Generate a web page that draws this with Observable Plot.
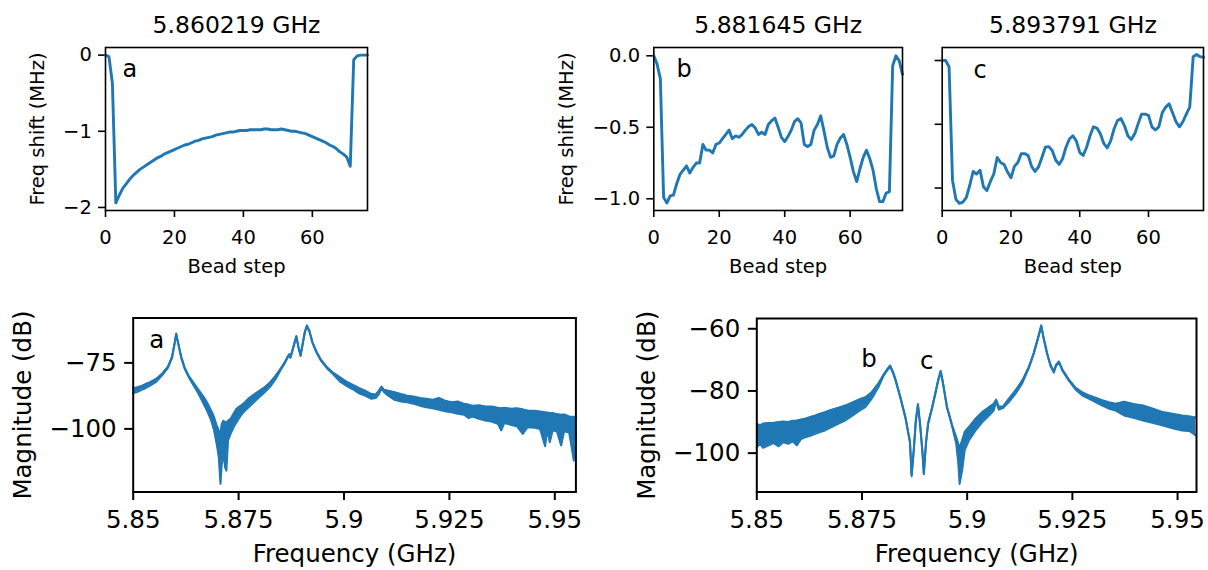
<!DOCTYPE html>
<html><head><meta charset="utf-8">
<script src="https://cdn.jsdelivr.net/npm/d3@7"></script>
<script src="https://cdn.jsdelivr.net/npm/@observablehq/plot@0.6"></script>
<style>
html,body{margin:0;padding:0;background:#fff;}
#fig{position:relative;width:1208px;height:570px;overflow:hidden;background:#fff;}
.panel{position:absolute;}
.panel svg{display:block;overflow:visible;}
.top g[aria-label$="-axis tick"]{stroke-width:1.6px;}
.bottom g[aria-label$="-axis tick"]{stroke-width:2px;}
</style></head><body><div id="fig"></div>
<script>
// ---------- data ----------
const titles = ["5.860219 GHz", "5.881645 GHz", "5.893791 GHz"];
const panelLetters = ["a", "b", "c"];
const beadStep = [0,1,2,3,4,5,6,7,8,9,10,11,12,13,14,15,16,17,18,19,20,21,22,23,24,25,26,27,28,29,30,31,32,33,34,35,36,37,38,39,40,41,42,43,44,45,46,47,48,49,50,51,52,53,54,55,56,57,58,59,60,61,62,63,64,65,66,67,68,69,70,71,72,73,74,75,76];
const shiftA = [0,-0.02,-0.37,-1.94,-1.84,-1.75,-1.69,-1.63,-1.58,-1.54,-1.50,-1.47,-1.44,-1.41,-1.38,-1.35,-1.33,-1.30,-1.28,-1.26,-1.24,-1.22,-1.20,-1.18,-1.17,-1.15,-1.13,-1.12,-1.10,-1.09,-1.08,-1.07,-1.05,-1.04,-1.03,-1.02,-1.01,-1.01,-1.00,-0.99,-0.99,-0.99,-0.98,-0.98,-0.98,-0.98,-0.97,-0.97,-0.98,-0.98,-0.98,-0.97,-0.98,-0.99,-1.00,-1.00,-1.01,-1.02,-1.03,-1.05,-1.07,-1.09,-1.11,-1.13,-1.15,-1.18,-1.20,-1.23,-1.27,-1.30,-1.34,-1.46,-0.06,-0.01,0,0,0];
const shiftB = [0,-0.058,-0.16,-0.99,-1.03,-0.98,-0.975,-0.895,-0.83,-0.80,-0.77,-0.82,-0.78,-0.75,-0.75,-0.62,-0.66,-0.66,-0.68,-0.62,-0.61,-0.58,-0.55,-0.52,-0.58,-0.56,-0.57,-0.55,-0.52,-0.495,-0.48,-0.505,-0.55,-0.535,-0.55,-0.48,-0.455,-0.435,-0.50,-0.57,-0.60,-0.565,-0.52,-0.46,-0.44,-0.47,-0.62,-0.635,-0.62,-0.52,-0.48,-0.42,-0.525,-0.64,-0.71,-0.70,-0.62,-0.575,-0.55,-0.62,-0.71,-0.81,-0.88,-0.79,-0.71,-0.66,-0.72,-0.80,-0.93,-1.02,-1.02,-0.96,-0.95,-0.07,0.0,-0.035,-0.13];
const shiftC = [0,0,-0.05,-0.94,-1.09,-1.12,-1.11,-1.075,-0.98,-0.87,-0.89,-0.86,-0.99,-1.02,-0.95,-0.89,-0.76,-0.80,-0.815,-0.875,-0.92,-0.83,-0.80,-0.73,-0.73,-0.745,-0.83,-0.87,-0.835,-0.76,-0.68,-0.675,-0.705,-0.78,-0.815,-0.77,-0.68,-0.615,-0.59,-0.63,-0.72,-0.745,-0.68,-0.59,-0.52,-0.53,-0.575,-0.65,-0.685,-0.63,-0.535,-0.47,-0.455,-0.51,-0.59,-0.62,-0.575,-0.495,-0.42,-0.42,-0.43,-0.52,-0.545,-0.52,-0.41,-0.365,-0.34,-0.41,-0.48,-0.52,-0.48,-0.42,-0.365,0.03,0.047,0.03,0.026];
const beadTicks = [0, 20, 40, 60];
const beadTickLabels = ["0", "20", "40", "60"];
const yTicksA = [0, -1, -2];
const yTickLabelsA = ["0", "−1", "−2"];
const yTicksB = [0, -0.5, -1];
const yTickLabelsB = ["0.0", "−0.5", "−1.0"];
const yTicksC = [0, -0.5, -1];

// spectrum, left (peak a): frequency (GHz), upper / lower edge of the noisy trace (dB)
const freqL = [5.8500,5.8510,5.8520,5.8530,5.8540,5.8555,5.8570,5.8582,5.8592,5.8598,5.8602,5.8607,5.8614,5.8622,5.8632,5.8645,5.8655,5.8665,5.8675,5.8685,5.8692,5.8698,5.8703,5.8707,5.8710,5.8714,5.8718,5.8721,5.8725,5.8731,5.8738,5.8745,5.8755,5.8765,5.8775,5.8788,5.8800,5.8812,5.8825,5.8838,5.8850,5.8860,5.8866,5.8870,5.8873,5.8878,5.8883,5.8887,5.8892,5.8897,5.8902,5.8907,5.8912,5.8918,5.8925,5.8935,5.8945,5.8960,5.8975,5.8990,5.9005,5.9020,5.9035,5.9050,5.9065,5.9075,5.9083,5.9089,5.9095,5.9105,5.9120,5.9135,5.9150,5.9165,5.9180,5.9195,5.9210,5.9225,5.9240,5.9255,5.9270,5.9285,5.9295,5.9305,5.9320,5.9335,5.9350,5.9365,5.9373,5.9380,5.9397,5.9410,5.9424,5.9435,5.9452,5.9465,5.9477,5.9482,5.9488,5.9495,5.9505,5.9515,5.9522,5.9534,5.9545,5.9550];
const hiL = [-84.6,-84.2,-83.7,-83.0,-82.3,-81.0,-78.8,-76.5,-72.7,-67.6,-63.9,-67.6,-72.7,-76.7,-80.0,-82.9,-85.2,-87.4,-89.9,-93.1,-95.6,-98.7,-100.6,-102.0,-98.1,-96.9,-97.5,-97.5,-96.9,-96.2,-94.3,-92.4,-91.2,-89.9,-88.3,-86.8,-85.5,-84.2,-82.3,-79.8,-77.1,-74.6,-72.7,-71.7,-72.7,-69.9,-67.0,-64.8,-68.9,-72.0,-67.6,-63.2,-60.8,-62.8,-67.0,-70.8,-73.7,-76.7,-78.8,-80.4,-82.0,-83.2,-84.5,-85.5,-86.8,-87.0,-85.5,-84.0,-85.2,-85.5,-86.1,-86.8,-87.4,-87.7,-88.3,-88.6,-89.0,-88.3,-89.3,-89.9,-89.6,-90.5,-90.8,-91.2,-91.0,-91.5,-91.5,-92.0,-92.2,-92.0,-92.4,-92.2,-92.6,-93.0,-93.1,-93.4,-93.7,-93.8,-94.1,-94.0,-94.4,-94.6,-94.5,-95.3,-95.4,-95.6];
const loL = [-86.4,-86.0,-85.2,-84.5,-83.6,-82.1,-79.4,-77.0,-73.2,-68.0,-64.2,-68.0,-73.2,-77.2,-80.5,-84.0,-86.7,-89.9,-93.1,-96.8,-100.6,-105.7,-110.7,-120.8,-113.3,-109.5,-114.6,-115.8,-104.4,-101.9,-99.4,-97.5,-95.0,-93.1,-91.6,-89.6,-87.8,-86.1,-84.0,-81.1,-77.6,-75.0,-73.1,-72.1,-73.1,-70.3,-67.4,-65.2,-69.3,-72.4,-68.0,-63.6,-61.1,-63.2,-67.4,-71.2,-74.1,-77.1,-79.4,-82.0,-83.6,-84.9,-86.5,-87.4,-88.6,-88.3,-86.8,-84.5,-86.1,-87.4,-89.0,-89.6,-89.9,-90.5,-91.2,-91.8,-92.2,-92.8,-93.3,-93.7,-94.3,-94.6,-95.9,-95.3,-96.2,-96.8,-97.2,-98.1,-100.6,-97.8,-98.5,-99.0,-101.9,-99.4,-99.6,-100.0,-106.6,-100.2,-105.1,-100.5,-101.0,-106.3,-101.0,-101.3,-112.0,-101.9];

// spectrum, right (peaks b and c)
const freqR = [5.8500,5.8508,5.8515,5.8528,5.8540,5.8552,5.8563,5.8575,5.8585,5.8595,5.8605,5.8615,5.8627,5.8639,5.8650,5.8662,5.8674,5.8686,5.8698,5.8710,5.8722,5.8734,5.8746,5.8758,5.8773,5.8789,5.8801,5.8810,5.8817,5.8823,5.8829,5.8841,5.8853,5.8864,5.8868,5.8873,5.8878,5.8883,5.8888,5.8894,5.8897,5.8902,5.8907,5.8917,5.8925,5.8931,5.8937,5.8942,5.8952,5.8964,5.8974,5.8979,5.8982,5.8988,5.8994,5.9004,5.9020,5.9036,5.9052,5.9063,5.9069,5.9075,5.9085,5.9099,5.9115,5.9131,5.9147,5.9158,5.9169,5.9176,5.9182,5.9190,5.9198,5.9206,5.9211,5.9218,5.9226,5.9242,5.9258,5.9273,5.9289,5.9305,5.9321,5.9337,5.9353,5.9373,5.9395,5.9418,5.9440,5.9465,5.9488,5.9511,5.9530,5.9543];
const hiR = [-90.6,-91.0,-90.5,-90.3,-90.2,-90.0,-89.8,-90.0,-89.6,-89.5,-89.2,-88.9,-88.4,-87.9,-87.3,-86.8,-86.2,-85.7,-85.2,-84.7,-84.0,-83.3,-82.6,-82.0,-80.4,-77.6,-74.8,-73.0,-71.8,-73.6,-75.9,-81.8,-88.2,-96.2,-107.0,-98.9,-89.3,-84.2,-90.4,-100.0,-106.4,-96.7,-90.4,-85.0,-80.2,-76.4,-73.5,-76.9,-85.0,-90.9,-94.8,-97.0,-98.1,-95.9,-93.2,-91.6,-88.9,-86.8,-85.2,-84.1,-82.8,-85.0,-85.0,-82.5,-79.8,-76.6,-72.1,-67.8,-62.5,-58.9,-63.0,-67.8,-71.6,-73.7,-71.6,-70.5,-73.0,-76.4,-79.0,-80.4,-81.4,-82.2,-83.0,-83.6,-84.1,-83.5,-84.2,-84.7,-85.6,-86.8,-87.3,-87.9,-88.2,-88.5];
const loR = [-98.1,-97.0,-98.3,-97.5,-96.8,-97.8,-96.5,-97.0,-96.2,-97.5,-95.5,-94.9,-94.4,-93.8,-93.2,-92.7,-91.9,-91.1,-90.3,-89.5,-88.4,-87.3,-86.2,-85.2,-82.5,-78.8,-75.2,-73.4,-72.2,-74.0,-76.3,-82.2,-88.6,-96.6,-107.4,-99.3,-89.7,-84.6,-90.8,-100.4,-106.8,-97.1,-90.8,-85.4,-80.6,-76.8,-73.9,-77.3,-85.4,-91.3,-97.0,-103.4,-109.9,-105.6,-99.1,-95.9,-92.7,-90.0,-87.9,-86.3,-83.3,-86.0,-85.5,-83.6,-80.9,-77.5,-72.5,-68.2,-62.9,-59.2,-63.4,-68.2,-72.0,-74.1,-72.0,-70.9,-73.4,-76.8,-79.6,-81.4,-82.5,-83.6,-84.7,-85.7,-86.3,-87.9,-88.6,-89.5,-90.2,-91.1,-92.0,-92.7,-93.0,-94.3];

const freqTicks = [5.85, 5.875, 5.9, 5.925, 5.95];
const freqTickLabels = ["5.85", "5.875", "5.9", "5.925", "5.95"];
const dbTicksL = [-75, -100];
const dbTickLabelsL = ["−75", "−100"];
const dbTicksR = [-60, -80, -100];
const dbTickLabelsR = ["−60", "−80", "−100"];
const peakLabelsL = [{label: "a", f: 5.8538, db: -69.2}];
const peakLabelsR = [{label: "b", f: 5.8748, db: -72.35}, {label: "c", f: 5.8888, db: -72.9}];

// ---------- drawing ----------
const blue = "#1f77b4";
const fig = document.getElementById("fig");
function fmt(ticks, labels) { return d => { const i = ticks.indexOf(d); return i < 0 ? "" : labels[i]; }; }

function place(svg, cls, left, top, width, height) {
  const div = document.createElement("div");
  div.className = "panel " + cls;
  Object.assign(div.style, {left: left + "px", top: top + "px", width: width + "px", height: height + "px"});
  div.appendChild(svg);
  fig.appendChild(div);
}

function topPanel(k, shift, yDomain, yTicks, yFmt, opts) {
  const {left, width, mLeft, mRight, ylabelDx, letterDx, letterDy} = opts;
  const marks = [
    Plot.line(beadStep, {x: beadStep, y: shift, stroke: blue, strokeWidth: 2.9}),
    Plot.text([titles[k]], {text: d => d, frameAnchor: "top", dy: -14.7, textAnchor: "middle", lineAnchor: "bottom", fontSize: 23.5}),
    Plot.text(["Bead step"], {text: d => d, frameAnchor: "bottom", dy: 62.7, textAnchor: "middle", lineAnchor: "bottom"}),
    Plot.text([panelLetters[k]], {text: d => d, frameAnchor: "top-left", dx: letterDx, dy: letterDy, textAnchor: "start", lineAnchor: "bottom", fontSize: 24}),
    Plot.frame({stroke: "black", strokeWidth: 1.6})
  ];
  if (ylabelDx != null) marks.push(Plot.text(["Freq shift (MHz)"], {text: d => d, frameAnchor: "left", dx: ylabelDx, rotate: -90, textAnchor: "middle", lineAnchor: "middle"}));
  const svg = Plot.plot({
    width, height: 290, marginLeft: mLeft, marginRight: mRight, marginTop: 47, marginBottom: 80,
    style: {fontFamily: "DejaVu Sans", fontSize: "19.5px", background: "transparent", color: "black", overflow: "visible"},
    x: {domain: [0, 76], ticks: beadTicks, tickFormat: fmt(beadTicks, beadTickLabels), tickSize: 7, tickPadding: 13, label: null},
    y: {domain: yDomain, ticks: yTicks, tickFormat: yFmt, tickSize: 7, tickPadding: 6.7, label: null},
    marks
  });
  place(svg, "top", left, 0, width, 290);
}

topPanel(0, shiftA, [-2.04, 0.1], yTicksA, fmt(yTicksA, yTickLabelsA),
  {left: 0, width: 400, mLeft: 105, mRight: 33, ylabelDx: -68, letterDx: 17, letterDy: 29.7});
topPanel(1, shiftB, [-1.082, 0.058], yTicksB, fmt(yTicksB, yTickLabelsB),
  {left: 520, width: 400, mLeft: 133.3, mRight: 18, ylabelDx: -86.6, letterDx: 22.7, letterDy: 29.7});
topPanel(2, shiftC, [-1.176, 0.102], yTicksC, () => "",
  {left: 920, width: 288, mLeft: 21.7, mRight: 5, ylabelDx: null, letterDx: 31.3, letterDy: 30});

function bottomPanel(freq, hi, lo, yDomain, yTicks, yLabels, peaks, opts) {
  const {left, width, mLeft, mRight, xMax, mTop} = opts;
  const svg = Plot.plot({
    width, height: 280, marginLeft: mLeft, marginRight: mRight, marginTop: mTop, marginBottom: 78.5,
    style: {fontFamily: "DejaVu Sans", fontSize: "24.5px", background: "transparent", color: "black", overflow: "visible"},
    x: {domain: [5.85, xMax], ticks: freqTicks, tickFormat: fmt(freqTicks, freqTickLabels), tickSize: 8.5, tickPadding: 10.5, label: null},
    y: {domain: yDomain, ticks: yTicks, tickFormat: fmt(yTicks, yLabels), tickSize: 8.5, tickPadding: 8, label: null},
    marks: [
      Plot.areaY(freq, {x: freq, y1: lo, y2: hi, fill: blue}),
      Plot.line(freq, {x: freq, y: hi, stroke: blue, strokeWidth: 2}),
      Plot.line(freq, {x: freq, y: lo, stroke: blue, strokeWidth: 2}),
      Plot.text(peaks, {x: "f", y: "db", text: "label", textAnchor: "start", lineAnchor: "bottom", fontSize: 24.5}),
      Plot.text(["Frequency (GHz)"], {text: d => d, frameAnchor: "bottom", dy: 69.5, textAnchor: "middle", lineAnchor: "bottom"}),
      Plot.text(["Magnitude (dB)"], {text: d => d, frameAnchor: "left", dx: -109.7, rotate: -90, textAnchor: "middle", lineAnchor: "middle"}),
      Plot.frame({stroke: "black", strokeWidth: 2})
    ]
  });
  place(svg, "bottom", left, 290, width, 280);
}

bottomPanel(freqL, hiL, loL, [-123.9, -58.0], dbTicksL, dbTickLabelsL, peakLabelsL,
  {left: 0, width: 620, mLeft: 132.7, mRight: 44.6, xMax: 5.955, mTop: 27.5});
bottomPanel(freqR, hiR, loR, [-112.5, -56.7], dbTicksR, dbTickLabelsR, peakLabelsR,
  {left: 620, width: 588, mLeft: 136.3, mRight: 12, xMax: 5.9545, mTop: 28});
</script></body></html>
